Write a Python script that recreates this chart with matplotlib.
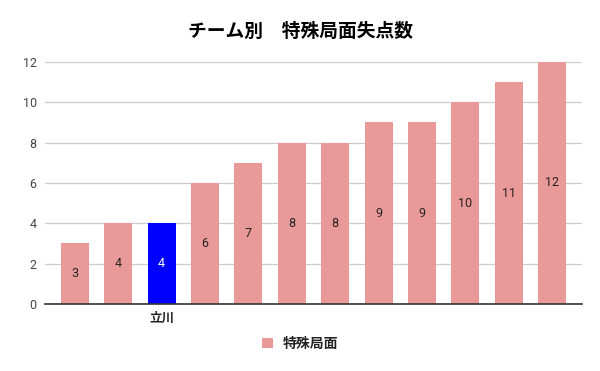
import matplotlib
matplotlib.use("Agg")
import matplotlib.pyplot as plt
from matplotlib.patches import Patch

teams = ["", "", "立川", "", "", "", "", "", "", "", "", ""]
values = [3, 4, 4, 6, 7, 8, 8, 9, 9, 10, 11, 12]
highlight_index = 2
title = "チーム別　特殊局面失点数"
series_name = "特殊局面"
yticks = [0, 2, 4, 6, 8, 10, 12]

plt.rcParams['font.family'] = ['Roboto', 'Noto Sans CJK JP', 'DejaVu Sans']

base_color = "#ea9999"
hl_color = "#0000ff"
colors = [hl_color if i == highlight_index else base_color for i in range(len(values))]

fig = plt.figure(figsize=(6.0, 3.71), dpi=100)
ax = fig.add_axes([0.075, 0.1806, 0.895, 0.6524])

x = list(range(len(values)))
ax.bar(x, values, width=0.645, color=colors, zorder=3)
for xi, v, c in zip(x, values, colors):
    ax.text(xi, v / 2, str(v), ha="center", va="center", fontsize=9,
            color="white" if c == hl_color else "#222222", zorder=4)

ax.set_xlim(-0.69, 11.69)
ax.set_ylim(0, 12)
ax.set_yticks(yticks)
ax.set_yticklabels([str(t) for t in yticks], fontsize=9, color="#444444")
ax.set_xticks(x)
ax.set_xticklabels(teams, fontsize=9, color="#222222", fontweight="bold",
                   fontfamily=['Noto Sans CJK JP', 'DejaVu Sans'])
ax.tick_params(axis="both", length=0, pad=6)
ax.yaxis.grid(True, color="#cccccc", linewidth=0.9, zorder=0)
for s in ["top", "right", "left"]:
    ax.spines[s].set_visible(False)
ax.spines["bottom"].set_color("#333333")
ax.spines["bottom"].set_linewidth(1.2)
ax.spines["bottom"].set_zorder(5)

fig.text(0.5, 0.915, title, ha="center", va="center", fontsize=13.5, fontweight="bold",
         color="#000000", fontfamily=['Noto Sans CJK JP', 'DejaVu Sans'])

handles = [Patch(facecolor=base_color, edgecolor="none", label=series_name)]
leg = fig.legend(handles=handles, loc="center", bbox_to_anchor=(0.5, 0.073), frameon=False,
                 handlelength=0.8, handleheight=0.8, handletextpad=0.7,
                 prop={'family': ['Noto Sans CJK JP', 'DejaVu Sans'], 'size': 10,
                       'weight': 'bold'})
for t in leg.get_texts():
    t.set_color("#222222")

fig.savefig("out.png", dpi=100)
